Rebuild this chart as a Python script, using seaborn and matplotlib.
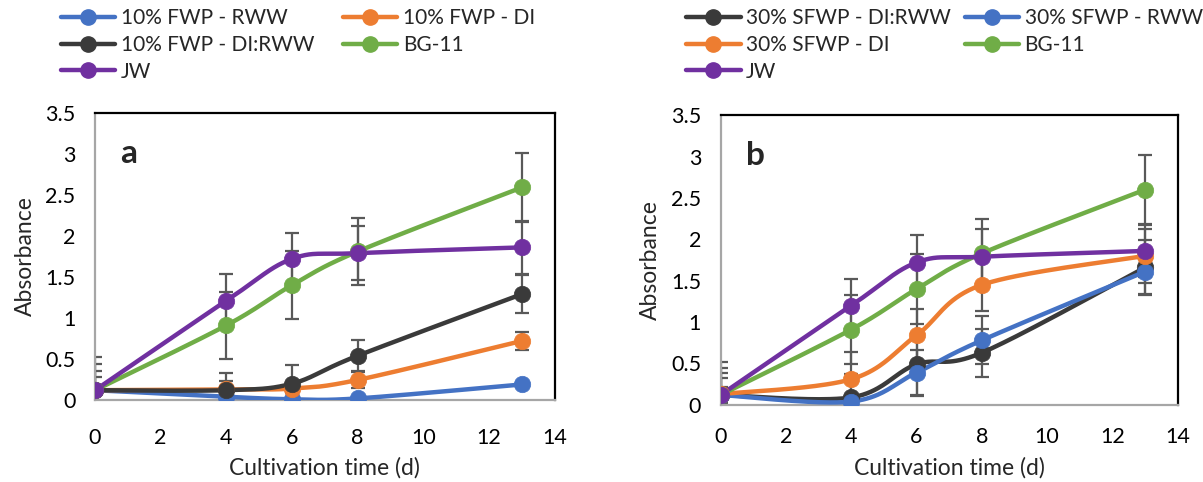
import numpy as np
import pandas as pd
import matplotlib
matplotlib.use("Agg")
import matplotlib.pyplot as plt
from matplotlib.lines import Line2D
from matplotlib.ticker import FuncFormatter
import seaborn as sns

# ---------------- data ----------------
days = [0, 4, 6, 8, 13]

# Panel a (10% FWP)
a_rww = [0.12, 0.04, 0.01, 0.02, 0.19]
a_di = [0.12, 0.13, 0.14, 0.245, 0.72]
a_dirww = [0.12, 0.12, 0.20, 0.54, 1.29]
a_bg11 = [0.12, 0.91, 1.40, 1.81, 2.59]
a_jw = [0.12, 1.21, 1.72, 1.79, 1.86]

a_rww_err = [0.05, 0.02, 0.02, 0.02, 0.02]
a_di_err = [0.16, 0.10, 0.05, 0.10, 0.11]
a_dirww_err = [0.24, 0.21, 0.23, 0.19, 0.23]
a_bg11_err = [0.32, 0.41, 0.41, 0.41, 0.42]
a_jw_err = [0.40, 0.32, 0.32, 0.33, 0.32]

# Panel b (30% SFWP)
b_dirww = [0.12, 0.09, 0.49, 0.63, 1.66]
b_rww = [0.12, 0.04, 0.39, 0.78, 1.61]
b_di = [0.13, 0.31, 0.84, 1.45, 1.80]
b_bg11 = [0.12, 0.91, 1.40, 1.83, 2.60]
b_jw = [0.12, 1.20, 1.72, 1.79, 1.86]

b_dirww_err = [0.27, 0.28, 0.38, 0.29, 0.33]
b_rww_err = [0.10, 0.05, 0.27, 0.29, 0.27]
b_di_err = [0.20, 0.33, 0.32, 0.32, 0.33]
b_bg11_err = [0.33, 0.42, 0.42, 0.41, 0.42]
b_jw_err = [0.40, 0.32, 0.33, 0.34, 0.31]

labels_a = ["10% FWP - RWW", "10% FWP - DI", "10% FWP - DI:RWW", "BG-11", "JW"]
labels_b = ["30% SFWP - DI:RWW", "30% SFWP - RWW", "30% SFWP - DI", "BG-11", "JW"]

C_BLUE = "#4472C4"
C_ORANGE = "#ED7D31"
C_DARK = "#3A3A3A"
C_GREEN = "#70AD47"
C_PURPLE = "#7030A0"
C_ERR = "#595959"

XMAX, YMAX = 14, 3.5

# --------------- helpers ---------------
def smooth_curve(x, y, sx, sy, n=40):
    """Excel-like smoothed line: cubic Bezier segments in (scaled) screen space."""
    px = np.asarray(x, float) * sx
    py = np.asarray(y, float) * sy
    P = np.column_stack([px, py])
    P_ext = np.vstack([P[0], P, P[-1]])
    out = []
    t = np.linspace(0, 1, n)[:, None]
    for i in range(len(P) - 1):
        p0, p1, p2, p3 = P_ext[i], P_ext[i + 1], P_ext[i + 2], P_ext[i + 3]
        c1 = p1 + (p2 - p0) / 6.0
        c2 = p2 - (p3 - p1) / 6.0
        seg = ((1 - t) ** 3) * p1 + 3 * ((1 - t) ** 2) * t * c1 + 3 * (1 - t) * t ** 2 * c2 + t ** 3 * p2
        if i > 0:
            seg = seg[1:]
        out.append(seg)
    S = np.vstack(out)
    return S[:, 0] / sx, S[:, 1] / sy


def draw_panel(ax, series, letter, xpad):
    sx = 460.0 / XMAX
    sy = 288.0 / YMAX
    for vals, errs, col, lab in series:
        ax.errorbar(days, vals, yerr=errs, fmt="none", ecolor=C_ERR,
                    elinewidth=1.6, capsize=5, capthick=1.6, zorder=2)
    for vals, errs, col, lab in series:
        xs, ys = smooth_curve(days, vals, sx, sy)
        df = pd.DataFrame({"x": xs, "y": ys})
        sns.lineplot(data=df, x="x", y="y", sort=False, color=col, lw=3.2,
                     ax=ax, zorder=3, legend=False)
        dfp = pd.DataFrame({"x": days, "y": vals})
        sns.scatterplot(data=dfp, x="x", y="y", color=col, s=140, ax=ax,
                        zorder=4, edgecolor=col, linewidth=0.5, legend=False)
    ax.set_xlim(0, XMAX)
    ax.set_ylim(0, YMAX)
    ax.set_xticks(np.arange(0, 15, 2))
    ax.set_yticks(np.arange(0, 3.51, 0.5))
    ax.yaxis.set_major_formatter(FuncFormatter(lambda v, p: f"{v:g}"))
    ax.tick_params(axis="both", length=0, labelsize=15.5, colors="#000000")
    ax.tick_params(axis="y", pad=14)
    ax.tick_params(axis="x", pad=xpad)
    ax.set_xlabel("Cultivation time (d)", fontsize=16.5, labelpad=7)
    ax.set_ylabel("Absorbance", fontsize=16.5, labelpad=7)
    for s in ["top", "right"]:
        ax.spines[s].set_color("#000000")
        ax.spines[s].set_linewidth(1.6)
    for s in ["left", "bottom"]:
        ax.spines[s].set_color("#A6A6A6")
        ax.spines[s].set_linewidth(1.6)
    ax.grid(False)
    ax.text(0.055, 0.86, letter, transform=ax.transAxes, fontsize=24,
            fontweight="bold", va="center", ha="left")


def handle(col):
    return Line2D([0], [0], color=col, lw=3.2, marker="o", markersize=11,
                  markerfacecolor=col, markeredgecolor=col)


# --------------- figure ---------------
sns.set_theme(style="white")
plt.rcParams["font.family"] = ["Lato", "DejaVu Sans"]

fig = plt.figure(figsize=(12.03, 4.82), dpi=100)
ax_a = fig.add_axes([0.079, 0.170, 0.382, 0.596])
ax_b = fig.add_axes([0.599, 0.160, 0.380, 0.601])

series_a = [
    (a_rww, a_rww_err, C_BLUE, labels_a[0]),
    (a_di, a_di_err, C_ORANGE, labels_a[1]),
    (a_dirww, a_dirww_err, C_DARK, labels_a[2]),
    (a_bg11, a_bg11_err, C_GREEN, labels_a[3]),
    (a_jw, a_jw_err, C_PURPLE, labels_a[4]),
]
series_b = [
    (b_dirww, b_dirww_err, C_DARK, labels_b[0]),
    (b_rww, b_rww_err, C_BLUE, labels_b[1]),
    (b_di, b_di_err, C_ORANGE, labels_b[2]),
    (b_bg11, b_bg11_err, C_GREEN, labels_b[3]),
    (b_jw, b_jw_err, C_PURPLE, labels_b[4]),
]

draw_panel(ax_a, series_a, "a", 20)
draw_panel(ax_b, series_b, "b", 16)

# legends (column-wise order so rows read like the reference)
order = [0, 2, 4, 1, 3]
leg_kw = dict(ncol=2, frameon=False, fontsize=15, handlelength=2.6,
              handletextpad=0.25, labelspacing=0.32,
              borderaxespad=0, loc="upper left")
fig.legend([handle(series_a[i][2]) for i in order],
           [series_a[i][3] for i in order],
           bbox_to_anchor=(0.044, 1.0), columnspacing=1.4, **leg_kw)
fig.legend([handle(series_b[i][2]) for i in order],
           [series_b[i][3] for i in order],
           bbox_to_anchor=(0.5636, 1.0), columnspacing=0.7, **leg_kw)

fig.savefig("out.png", dpi=100)
